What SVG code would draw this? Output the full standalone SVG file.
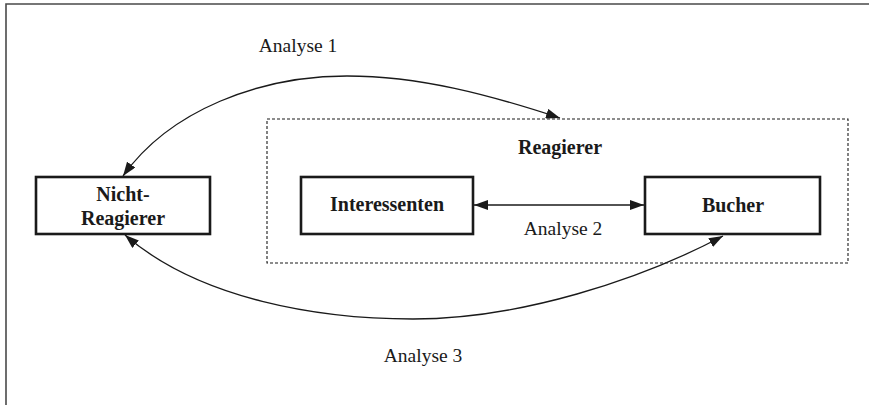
<svg xmlns="http://www.w3.org/2000/svg" width="869" height="405" viewBox="0 0 869 405">
<style>
  .node { fill: #ffffff; stroke: #1a1a1a; stroke-width: 2.6; }
  .group { fill: none; stroke: #1a1a1a; stroke-width: 1.1; stroke-dasharray: 3 2; }
  .bold { font-family: "Liberation Serif", "Times New Roman", serif; font-weight: bold; font-size: 20px; fill: #1a1a1a; text-anchor: middle; }
  .lbl { font-family: "Liberation Serif", "Times New Roman", serif; font-size: 19.5px; fill: #1a1a1a; text-anchor: middle; }
  .conn { fill: none; stroke: #1a1a1a; stroke-width: 1.3; }
  .frame { fill: none; stroke: #4a4a4a; stroke-width: 1.6; }
</style>
<defs>
  <marker id="arrow" viewBox="0 0 14 10" refX="14" refY="5" markerWidth="14" markerHeight="10" markerUnits="userSpaceOnUse" orient="auto-start-reverse">
    <path d="M0,0 L14,5 L0,10 z" fill="#1a1a1a"/>
  </marker>
</defs>
<rect width="869" height="405" fill="#ffffff"/>
<path class="frame" d="M6,405 L6,4 L869,4"/>

<g id="reagierer-group">
  <rect class="group" x="267" y="119" width="581" height="144"/>
  <text class="bold" x="560" y="154">Reagierer</text>
</g>

<g id="nicht-reagierer">
  <rect class="node" x="36" y="177" width="174" height="57"/>
  <text class="bold" x="123" y="201">Nicht-</text>
  <text class="bold" x="123" y="225">Reagierer</text>
</g>

<g id="interessenten">
  <rect class="node" x="301" y="177" width="172" height="57"/>
  <text class="bold" x="387" y="211">Interessenten</text>
</g>

<g id="bucher">
  <rect class="node" x="645" y="177" width="175" height="57"/>
  <text class="bold" x="733" y="212">Bucher</text>
</g>

<g id="connectors">
  <path class="conn" d="M123,176 C170,110 260,76 347,76 C420,76 490,95 560,118" marker-start="url(#arrow)" marker-end="url(#arrow)"/>
  <path class="conn" d="M474,205 L644,205" marker-start="url(#arrow)" marker-end="url(#arrow)"/>
  <path class="conn" d="M125,235 C200,300 320,319 413,319 C520,319 640,280 723,236" marker-start="url(#arrow)" marker-end="url(#arrow)"/>
  <text class="lbl" x="298" y="52">Analyse 1</text>
  <text class="lbl" x="563" y="235">Analyse 2</text>
  <text class="lbl" x="423" y="362">Analyse 3</text>
</g>
</svg>
